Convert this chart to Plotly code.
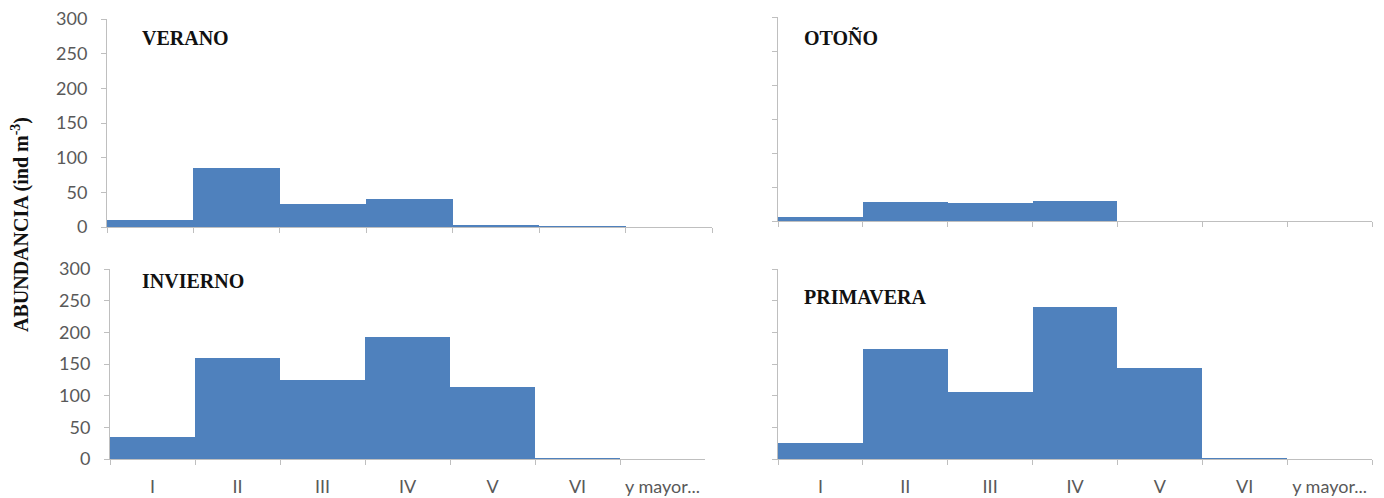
import plotly.graph_objects as go

W, H = 1384, 498

categories = ["I", "II", "III", "IV", "V", "VI", "y mayor..."]
verano = [10, 85, 33, 40, 3, 1, 0]
otono = [6, 28, 26, 29, 0, 0, 0]
invierno = [34, 160, 125, 192, 114, 1, 0]
primavera = [26, 173, 106, 240, 143, 1, 0]
panel_titles = ["VERANO", "OTOÑO", "INVIERNO", "PRIMAVERA"]
y_ticks = [0, 50, 100, 150, 200, 250, 300]

BAR = "#4F81BD"
AX = "#BFBFBF"
TICKFONT = dict(family="Lato, Liberation Sans, sans-serif", size=18, color="#595959")

# pixel boxes: (x0, x1, ytop, ybottom)
boxes = [
    (107, 712, 19, 227),
    (778, 1372, 17, 221),
    (110, 705, 269, 459),
    (778, 1372, 269, 459),
]
series = [verano, otono, invierno, primavera]
show_xlabels = [False, False, True, True]
show_ylabels = [True, False, True, False]
title_pos = [(140, 38), (802, 38), (140, 281), (802, 297)]

fig = go.Figure()
for i, (vals, box) in enumerate(zip(series, boxes)):
    n = "" if i == 0 else str(i + 1)
    fig.add_trace(go.Bar(x=categories, y=vals, marker=dict(color=BAR, line=dict(width=0)),
                         xaxis="x" + n, yaxis="y" + n, showlegend=False))
    x0, x1, yt, yb = box
    fig.layout["xaxis" + n] = dict(
        domain=[x0 / W, x1 / W], anchor="y" + n, type="category",
        range=[-0.5, 6.5], showline=True, linecolor=AX, linewidth=1,
        ticks="outside", tickson="boundaries", ticklen=5, tickcolor=AX,
        showgrid=False, showticklabels=show_xlabels[i], tickfont=TICKFONT,
        tickangle=0, automargin=False,
        ticklabelstandoff=11, zeroline=False, fixedrange=True)
    fig.layout["yaxis" + n] = dict(
        domain=[1 - yb / H, 1 - yt / H], anchor="x" + n, range=[0, 300],
        tickvals=y_ticks, showline=True, linecolor=AX, linewidth=1,
        ticks="outside", ticklen=5, tickcolor=AX, showgrid=False,
        showticklabels=show_ylabels[i], tickfont=TICKFONT, zeroline=False,
        ticklabelstandoff=10, automargin=False, fixedrange=True)
    tx, ty = title_pos[i]
    fig.add_annotation(text="<b>" + panel_titles[i] + "</b>", xref="paper", yref="paper",
                       x=tx / W, y=1 - ty / H, xanchor="left", yanchor="middle",
                       showarrow=False,
                       font=dict(family="Liberation Serif, Times New Roman, serif", size=20, color="#111111"))

fig.add_annotation(text="<b>ABUNDANCIA (ind m<sup>-3</sup>)</b>", xref="paper", yref="paper",
                   x=20 / W, y=1 - 225 / H, textangle=-90, showarrow=False,
                   xanchor="center", yanchor="middle",
                   font=dict(family="Liberation Serif, Times New Roman, serif", size=20, color="#111111"))

fig.update_layout(width=W, height=H, margin=dict(l=0, r=0, t=0, b=0, autoexpand=False),
                  paper_bgcolor="white", plot_bgcolor="white", bargap=0)
fig.write_html("out.html")
